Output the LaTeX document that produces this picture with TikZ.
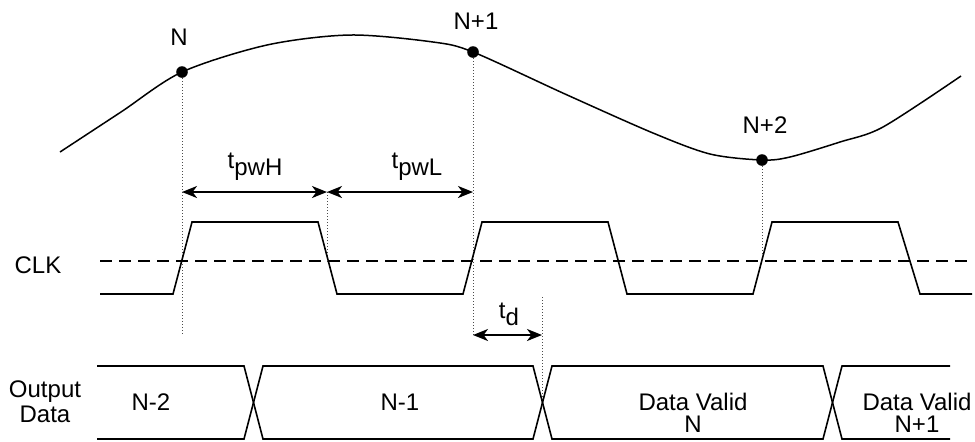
\documentclass[tikz,border=0pt]{standalone}
\usepackage{fontspec}
\setmainfont{Liberation Sans}
\usepackage{tikz}
\usetikzlibrary{arrows.meta}
\newcommand{\tsub}[1]{t\raisebox{-3.5pt}{#1}}

\begin{document}
\begin{tikzpicture}[x=0.5pt,y=-0.5pt,font=\fontsize{12}{12.5}\selectfont,
  wave/.style={line width=0.8pt,line join=miter},
  guide/.style={densely dotted,line width=0.5pt,black!70},
  dimarr/.style={{Stealth[length=7.5pt,width=6pt,inset=2.2pt]}-{Stealth[length=7.5pt,width=6pt,inset=2.2pt]},line width=1pt},
  sample/.style={circle,fill=black,inner sep=0pt,minimum size=5.8pt},
  lbl/.style={inner sep=0pt,anchor=base}]
  \useasboundingbox (0,0) rectangle (975,441);
  % sample points on the analog input
  \coordinate (pN)  at (182,72);
  \coordinate (pN1) at (473,52);
  \coordinate (pN2) at (762,160);
  \draw[line width=0.75pt] plot[smooth,tension=0.5] coordinates
     {(60,152) (121,112) (pN) (267,45) (350,35) (433,42) (pN1) (565,94) (653,133) (710,154) (pN2) (790,157) (840,142) (883,127) (961,76)};
  % guide lines
  \coordinate (gN)  at (182,335);
  \coordinate (gH)  at (327,192);
  \coordinate (gHb) at (327,263);
  \coordinate (gN1) at (473,335);
  \coordinate (gN2) at (762,260);
  \coordinate (gDa) at (542,297);
  \coordinate (gDb) at (542,402);
  \draw[guide] (pN) -- (gN);
  \draw[guide] (gH) -- (gHb);
  \draw[guide] (pN1) -- (gN1);
  \draw[guide] (pN2) -- (gN2);
  \draw[guide] (gDa) -- (gDb);
  \node[sample] (sN)  at (pN)  {};
  \node[sample] (sN1) at (pN1) {};
  \node[sample] (sN2) at (pN2) {};
  \node[lbl] (lN)  at (179,45)  {N};
  \node[lbl] (lN1) at (476,29)  {N+1};
  \node[lbl] (lN2) at (765,133) {N+2};
  % pulse widths
  \coordinate (aH) at (182,192);
  \coordinate (aL) at (473,192);
  \draw[dimarr] (aH) -- (gH);
  \draw[dimarr] (gH) -- (aL);
  \node[lbl] (tH) at (255,168) {\tsub{pwH}};
  \node[lbl] (tL) at (417,168) {\tsub{pwL}};
  % clock
  \node[lbl] (clk) at (38,273) {CLK};
  \draw[dashed,dash pattern=on 6pt off 3.5pt,line width=0.75pt] (100,261) -- (972,261);
  \draw[wave] (100,294) -- (173,294) -- (192,222) -- (318,222) -- (337,294)
     -- (463,294) -- (482,222) -- (608,222) -- (627,294)
     -- (753,294) -- (772,222) -- (898,222) -- (920,294) -- (972,294);
  % delay
  \coordinate (dA) at (473,335);
  \coordinate (dB) at (542,335);
  \draw[dimarr] (dA) -- (dB);
  \node[lbl] (td) at (509,318) {\tsub{d}};
  % output data bus
  \node[align=center,inner sep=0pt] (out) at (45,402) {Output\\Data};
  \draw[wave] (97,366) -- (244,366) -- (263,439) -- (533,439) -- (552,366)
     -- (823,366) -- (842,439) -- (950,439);
  \draw[wave] (97,439) -- (244,439) -- (263,366) -- (533,366) -- (552,439)
     -- (823,439) -- (842,366) -- (950,366);
  \node[lbl] (d2) at (151,410) {N-2};
  \node[lbl] (d1) at (400,410) {N-1};
  \node[align=center,inner sep=0pt,font=\fontsize{12}{11}\selectfont] (dv)  at (693,413) {Data Valid\\N};
  \node[align=center,inner sep=0pt,font=\fontsize{12}{11}\selectfont] (dv1) at (917,413) {Data Valid\\N+1};
\end{tikzpicture}
\end{document}
